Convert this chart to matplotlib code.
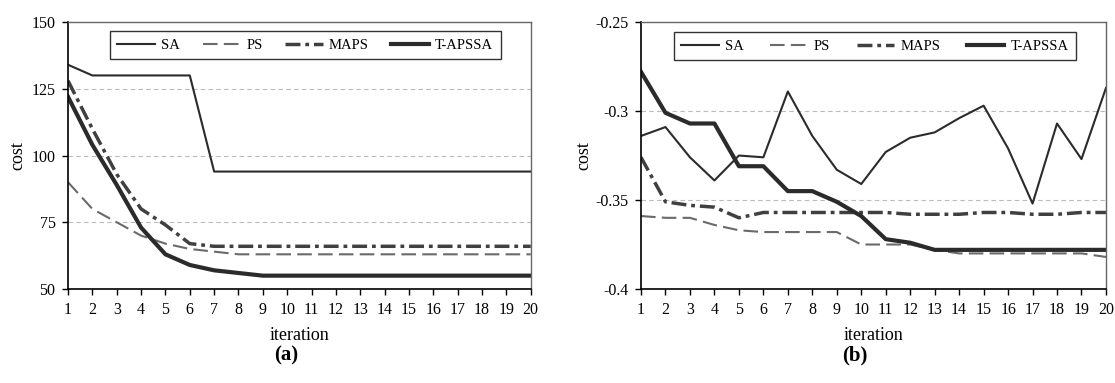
import numpy as np
import matplotlib.pyplot as plt

plt.rcParams['font.family'] = ['Liberation Serif', 'DejaVu Serif']
plt.rcParams['font.size'] = 10.5

# --- DATA ---
iters = np.arange(1, 21)

# (a)
sa_a    = [134, 130, 130, 130, 130, 130, 94, 94, 94, 94, 94, 94, 94, 94, 94, 94, 94, 94, 94, 94]
ps_a    = [90, 80, 75, 70, 67, 65, 64, 63, 63, 63, 63, 63, 63, 63, 63, 63, 63, 63, 63, 63]
maps_a  = [128, 110, 93, 80, 74, 67, 66, 66, 66, 66, 66, 66, 66, 66, 66, 66, 66, 66, 66, 66]
tapssa_a = [122, 104, 89, 73, 63, 59, 57, 56, 55, 55, 55, 55, 55, 55, 55, 55, 55, 55, 55, 55]

# (b)
sa_b    = [-0.314, -0.309, -0.326, -0.339, -0.325, -0.326, -0.289, -0.314, -0.333, -0.341,
           -0.323, -0.315, -0.312, -0.304, -0.297, -0.321, -0.352, -0.307, -0.327, -0.287]
ps_b    = [-0.359, -0.360, -0.360, -0.364, -0.367, -0.368, -0.368, -0.368, -0.368, -0.375,
           -0.375, -0.375, -0.378, -0.380, -0.380, -0.380, -0.380, -0.380, -0.380, -0.382]
maps_b  = [-0.326, -0.351, -0.353, -0.354, -0.360, -0.357, -0.357, -0.357, -0.357, -0.357,
           -0.357, -0.358, -0.358, -0.358, -0.357, -0.357, -0.358, -0.358, -0.357, -0.357]
tapssa_b = [-0.278, -0.301, -0.307, -0.307, -0.331, -0.331, -0.345, -0.345, -0.351, -0.359,
            -0.372, -0.374, -0.378, -0.378, -0.378, -0.378, -0.378, -0.378, -0.378, -0.378]

labels = ["SA", "PS", "MAPS", "T-APSSA"]

# line styles: (color, linewidth, dash pattern)
styles = [
    ("#2b2b2b", 1.5, "-"),
    ("#6a6a6a", 1.5, (0, (7, 3))),
    ("#404040", 2.5, (0, (4.3, 1.4, 1.1, 1.4))),
    ("#2b2b2b", 3.0, "-"),
]


def draw_panel(ax, series, ylim, yticks, yticklabels, leg_box, ypad):
    for y, lab, (c, lw, ls) in zip(series, labels, styles):
        ax.plot(iters, y, color=c, lw=lw, linestyle=ls, label=lab)

    ax.set_xlim(1, 20)
    ax.set_ylim(*ylim)
    ax.set_xticks(iters)
    ax.set_yticks(yticks)
    ax.set_yticklabels(yticklabels)
    ax.tick_params(direction="out", length=4, width=1, pad=5, labelsize=11.5)

    # dashed horizontal guides at the inner y ticks
    for yv in yticks[1:-1]:
        ax.axhline(yv, color="#bbbbbb", lw=0.8, ls=(0, (4, 3)), zorder=0)

    for s in ("top", "right"):
        ax.spines[s].set_color("#666666")
        ax.spines[s].set_linewidth(1.0)
    for s in ("left", "bottom"):
        ax.spines[s].set_color("black")
        ax.spines[s].set_linewidth(1.2)

    ax.set_xlabel("iteration", fontsize=13, labelpad=7)
    ax.set_ylabel("cost", fontsize=13, labelpad=ypad)

    leg = ax.legend(loc="upper left", bbox_to_anchor=leg_box, mode="expand",
                    ncol=4, fancybox=False, framealpha=1, edgecolor="#333333",
                    handlelength=2.6, handletextpad=0.4, borderpad=0.5,
                    borderaxespad=0, fontsize=10.5)
    leg.get_frame().set_linewidth(1.0)


fig = plt.figure(figsize=(11.15, 3.83), dpi=100)

ax_a = fig.add_axes([0.061, 0.2454, 0.415, 0.697])
ax_b = fig.add_axes([0.5749, 0.2454, 0.417, 0.697])

draw_panel(ax_a, [sa_a, ps_a, maps_a, tapssa_a], (50, 150),
           [50, 75, 100, 125, 150], ["50", "75", "100", "125", "150"],
           (0.091, 0.865, 0.844, 0.101), 4)
draw_panel(ax_b, [sa_b, ps_b, maps_b, tapssa_b], (-0.4, -0.25),
           [-0.4, -0.35, -0.3, -0.25], ["-0.4", "-0.35", "-0.3", "-0.25"],
           (0.071, 0.857, 0.864, 0.105), 2)

fig.text(286 / 1115, 1 - 355 / 383, "(a)", ha="center", va="center",
         fontsize=15, fontweight="bold")
fig.text(855 / 1115, 1 - 355 / 383, "(b)", ha="center", va="center",
         fontsize=15, fontweight="bold")

fig.savefig("out.png", dpi=100)
